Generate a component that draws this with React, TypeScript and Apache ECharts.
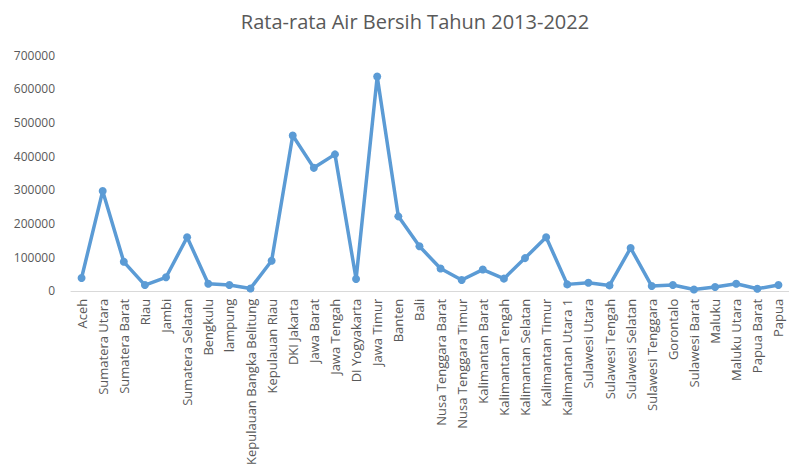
import React, { useEffect, useRef } from "react";
import * as echarts from "echarts";

const categories: string[] = [
  "Aceh", "Sumatera Utara", "Sumatera Barat", "Riau", "Jambi", "Sumatera Selatan",
  "Bengkulu", "lampung", "Kepulauan Bangka Belitung", "Kepulauan Riau", "DKI Jakarta",
  "Jawa Barat", "Jawa Tengah", "DI Yogyakarta", "Jawa Timur", "Banten", "Bali",
  "Nusa Tenggara Barat", "Nusa Tenggara Timur", "Kalimantan Barat", "Kalimantan Tengah",
  "Kalimantan Selatan", "Kalimantan Timur", "Kalimantan Utara 1", "Sulawesi Utara",
  "Sulawesi Tengah", "Sulawesi Selatan", "Sulawesi Tenggara", "Gorontalo",
  "Sulawesi Barat", "Maluku", "Maluku Utara", "Papua Barat", "Papua",
];

const values: number[] = [
  38000, 296000, 86000, 17000, 40000, 159000,
  21000, 17000, 7000, 89000, 461000,
  365000, 405000, 35000, 636000, 221000, 132000,
  66000, 32000, 63000, 36000,
  97000, 159000, 19000, 24000,
  16000, 127000, 14000, 17000,
  4000, 11000, 21000, 6000, 17000,
];

const yTicks = { min: 0, max: 700000, interval: 100000 };
const titleText = "Rata-rata Air Bersih Tahun 2013-2022";

export default function App() {
  const ref = useRef<HTMLDivElement>(null);
  useEffect(() => {
    if (!ref.current) return;
    const chart = echarts.init(ref.current, undefined, { renderer: "svg" });
    const font = "'Open Sans', 'Noto Sans', sans-serif";
    chart.setOption({
      animation: false,
      backgroundColor: "#ffffff",
      title: {
        text: titleText,
        left: 410,
        top: 6,
        textAlign: "center",
        textStyle: { fontFamily: font, fontSize: 20, fontWeight: "normal", color: "#595959" },
      },
      grid: { left: 71, top: 55, width: 722, height: 238, containLabel: false },
      xAxis: {
        type: "category",
        data: categories,
        boundaryGap: true,
        axisLine: { lineStyle: { color: "#d9d9d9", width: 1 } },
        axisTick: { show: false },
        axisLabel: {
          rotate: 90,
          interval: 0,
          margin: 8,
          color: "#595959",
          fontFamily: font,
          fontSize: 13,
        },
      },
      yAxis: {
        type: "value",
        min: yTicks.min,
        max: yTicks.max,
        interval: yTicks.interval,
        axisLine: { show: false },
        axisTick: { show: false },
        splitLine: { show: false },
        axisLabel: {
          color: "#595959",
          fontFamily: font,
          fontSize: 12,
          margin: 16,
          formatter: (v: number) => String(v),
        },
      },
      series: [
        {
          type: "line",
          data: values,
          symbol: "circle",
          symbolSize: 8,
          lineStyle: { color: "#5b9bd5", width: 3.5 },
          itemStyle: { color: "#5b9bd5" },
        },
      ],
    });
    return () => chart.dispose();
  }, []);
  return (
    <div
      ref={ref}
      style={{ position: "fixed", left: 0, top: 0, width: 789, height: 468 }}
    />
  );
}
